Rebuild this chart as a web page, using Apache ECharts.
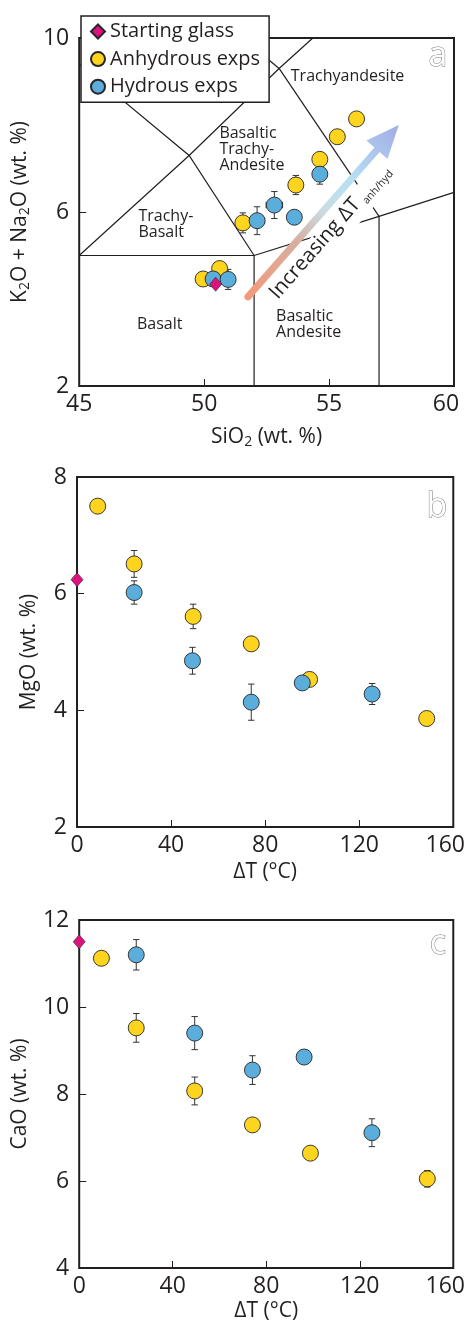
<!DOCTYPE html>
<html><head><meta charset="utf-8">
<script src="https://cdn.jsdelivr.net/npm/echarts@6/dist/echarts.min.js"></script>
<style>html,body{margin:0;padding:0;background:#fff}#c{width:468px;height:1324px}</style>
</head><body><div id="c"></div>
<script>
// ---------- Panel a: TAS diagram ----------
const tasAnhSiO2   = [56.10, 55.33, 54.63, 53.67, 51.55, 50.62, 49.96];
const tasAnhAlk    = [8.14, 7.73, 7.21, 6.62, 5.75, 4.70, 4.46];
const tasAnhErrAlk = [0, 0, 0, 0.22, 0.23, 0, 0];
const tasAnhErrSi  = [0, 0, 0, 0, 0, 0, 0];
const tasHydSiO2   = [54.63, 52.81, 52.12, 53.61, 50.36, 50.96];
const tasHydAlk    = [6.87, 6.16, 5.80, 5.88, 4.46, 4.45];
const tasHydErrAlk = [0.23, 0.31, 0.32, 0, 0, 0.23];
const tasHydErrSi  = [0, 0.33, 0.30, 0, 0, 0];
const tasStartSiO2 = [50.46];
const tasStartAlk  = [4.34];
// TAS field boundaries (clipped to the plotted window)
const tasBoundaries = [
  [[45, 5], [52, 5]],
  [[52, 2], [52, 5]],
  [[57, 2], [57, 5.9]],
  [[52, 5], [57, 5.9], [60, 6.45]],
  [[45, 5], [49.4, 7.3], [53, 9.3], [54.35, 10]],
  [[45, 9.4], [49.4, 7.3], [52, 5]],
  [[53, 9.3], [57, 5.9]],
  [[53, 9.3], [51.54, 10]]
];
const fieldNames = ['Trachyandesite', 'Basaltic\nTrachy-\nAndesite', 'Trachy-\nBasalt', 'Basalt', 'Basaltic\nAndesite'];
const fieldSiO2  = [55.74, 50.61, 47.37, 47.31, 52.88];
const fieldAlk   = [9.11, 7.44, 5.72, 3.42, 3.42];
const fieldAlign = ['center', 'left', 'left', 'left', 'left'];
const arrowTail = [51.75, 4.05];
const arrowHead = [57.79, 8.00];
const arrowLabelPos = [55.12, 5.50];

// ---------- Panel b: MgO vs dT ----------
const mgAnhDT  = [8.8, 24.3, 49.4, 74.1, 98.9, 148.7];
const mgAnh    = [7.50, 6.51, 5.61, 5.14, 4.53, 3.86];
const mgAnhErr = [0, 0.23, 0.21, 0, 0, 0.12];
const mgHydDT  = [24.3, 49.1, 74.1, 95.8, 125.5];
const mgHyd    = [6.02, 4.85, 4.14, 4.47, 4.28];
const mgHydErr = [0.20, 0.23, 0.31, 0, 0.18];
const mgStartDT = [0];
const mgStart   = [6.24];

// ---------- Panel c: CaO vs dT ----------
const caAnhDT  = [9.5, 24.4, 49.4, 74.1, 98.9, 148.9];
const caAnh    = [11.12, 9.52, 8.07, 7.29, 6.64, 6.05];
const caAnhErr = [0, 0.33, 0.32, 0, 0, 0.19];
const caHydDT  = [24.4, 49.4, 74.1, 96.2, 125.2];
const caHyd    = [11.20, 9.40, 8.55, 8.85, 7.11];
const caHydErr = [0.35, 0.38, 0.33, 0, 0.32];
const caStartDT = [0];
const caStart   = [11.50];

const FONT = 'Open Sans';
const INK = '#231f20';
const YEL = '#FFD41E', BLU = '#5BAEDC', PNK = '#DC137F';

const zip = (a, b) => a.map((v, i) => [v, b[i]]);
const errData = (xs, ys, ye, xe) => xs.map((x, i) => [x, ys[i], ye[i], xe ? xe[i] : 0]).filter(d => d[2] > 0 || d[3] > 0);

function renderErr(params, api) {
  const x = api.value(0), y = api.value(1), ye = api.value(2), xe = api.value(3);
  const st = { stroke: '#333', lineWidth: 1 };
  const kids = [];
  const cap = 3.2;
  if (ye > 0) {
    const t = api.coord([x, y + ye]), b = api.coord([x, y - ye]);
    kids.push({ type: 'line', shape: { x1: t[0], y1: t[1], x2: b[0], y2: b[1] }, style: st });
    kids.push({ type: 'line', shape: { x1: t[0] - cap, y1: t[1], x2: t[0] + cap, y2: t[1] }, style: st });
    kids.push({ type: 'line', shape: { x1: b[0] - cap, y1: b[1], x2: b[0] + cap, y2: b[1] }, style: st });
  }
  if (xe > 0) {
    const l = api.coord([x - xe, y]), r = api.coord([x + xe, y]);
    kids.push({ type: 'line', shape: { x1: l[0], y1: l[1], x2: r[0], y2: r[1] }, style: st });
    kids.push({ type: 'line', shape: { x1: l[0], y1: l[1] - cap, x2: l[0], y2: l[1] + cap }, style: st });
    kids.push({ type: 'line', shape: { x1: r[0], y1: r[1] - cap, x2: r[0], y2: r[1] + cap }, style: st });
  }
  return { type: 'group', children: kids };
}

function arrowAngle(api) {
  const p1 = api.coord(arrowTail), p2 = api.coord(arrowHead);
  return Math.atan2(-(p2[1] - p1[1]), p2[0] - p1[0]);
}

function renderArrow(params, api) {
  const p1 = api.coord([api.value(0), api.value(1)]);
  const p2 = api.coord([api.value(2), api.value(3)]);
  const dx = p2[0] - p1[0], dy = p2[1] - p1[1];
  const L = Math.hypot(dx, dy), ux = dx / L, uy = dy / L, nx = -uy, ny = ux;
  const hl = 33, hw = 14;
  const bx = p2[0] - ux * hl, by = p2[1] - uy * hl;
  const grad = () => new echarts.graphic.LinearGradient(p1[0], p1[1], p2[0], p2[1], [
    { offset: 0, color: '#F4997A' },
    { offset: 0.32, color: '#D8AE9F' },
    { offset: 0.5, color: '#C9DCE4' },
    { offset: 0.68, color: '#B6E1F1' },
    { offset: 1, color: '#A2ACE6' }
  ], true);
  return { type: 'group', children: [
    { type: 'line', shape: { x1: p1[0], y1: p1[1], x2: bx + ux * 2, y2: by + uy * 2 }, style: { stroke: grad(), lineWidth: 7, lineCap: 'round' } },
    { type: 'polygon', shape: { points: [[p2[0], p2[1]], [bx + nx * hw, by + ny * hw], [bx - nx * hw, by - ny * hw]] }, style: { fill: grad() } }
  ] };
}

function renderFieldLabel(params, api) {
  const p = api.coord([api.value(0), api.value(1)]);
  const i = params.dataIndex;
  return { type: 'text', x: p[0], y: p[1], style: {
    text: fieldNames[i], fontSize: 16, fontFamily: FONT, fill: INK,
    align: fieldAlign[i], verticalAlign: 'middle', lineHeight: 16 } };
}

function renderDeltaLabel(params, api) {
  const p = api.coord([api.value(0), api.value(1)]);
  return { type: 'text', x: p[0], y: p[1], rotation: arrowAngle(api), style: {
    text: '{m|Increasing ΔT}{s|anh/hyd}',
    rich: {
      m: { fontSize: 20.5, fontFamily: FONT, fill: INK, lineHeight: 23, verticalAlign: 'top' },
      s: { fontSize: 10.5, fontFamily: FONT, fill: INK, lineHeight: 12, verticalAlign: 'bottom', padding: [20, 0, 0, 4] }
    },
    align: 'center', verticalAlign: 'middle', backgroundColor: '#fff', padding: [0, 3, 4, 3] } };
}

const subRich = { sub: { fontSize: 14, fontFamily: FONT, color: INK, lineHeight: 14, verticalAlign: 'bottom' } };

function xAx(gi, min, max, interval, name, nameGap) {
  return {
    type: 'value', gridIndex: gi, min, max, interval, name, nameLocation: 'middle', nameGap,
    nameTextStyle: { fontSize: 21, lineHeight: 24, color: INK, fontFamily: FONT, rich: subRich },
    axisLine: { show: false },
    axisTick: { show: true, inside: true, length: 7, lineStyle: { color: INK, width: 1 } },
    axisLabel: { fontSize: 23, color: INK, fontFamily: FONT, margin: 7,
      formatter: v => (v === max ? '{r|' + v + '}' : String(v)),
      rich: { r: { fontSize: 23, color: INK, fontFamily: FONT, padding: [0, 16, 0, 0] } } },
    splitLine: { show: false }
  };
}
function yAx(gi, min, max, interval, name, nameGap) {
  return {
    type: 'value', gridIndex: gi, min, max, interval, name, nameLocation: 'middle', nameGap, nameRotate: 90,
    nameTextStyle: { fontSize: 21, lineHeight: 24, color: INK, fontFamily: FONT, rich: subRich },
    axisLine: { show: false },
    axisTick: { show: true, inside: true, length: 7, lineStyle: { color: INK, width: 1 } },
    axisLabel: { fontSize: 23, color: INK, fontFamily: FONT, margin: 10 },
    splitLine: { show: false }
  };
}

function scatter(name, gi, data, color, z) {
  const isStart = name === 'Starting glass';
  return {
    type: 'scatter', name, xAxisIndex: gi, yAxisIndex: gi, data, clip: false, z,
    symbol: isStart ? 'diamond' : 'circle', symbolSize: isStart ? [12, 14] : 16,
    itemStyle: { color, borderColor: '#262626', borderWidth: isStart ? 0.6 : 0.9, opacity: 1 },
    emphasis: { disabled: true }
  };
}
function errSeries(gi, data) {
  return { type: 'custom', xAxisIndex: gi, yAxisIndex: gi, data, renderItem: renderErr, z: 4, silent: true, clip: false };
}

const gridStyle = { show: true, borderColor: INK, borderWidth: 2, backgroundColor: 'transparent' };

const option = {
  animation: false,
  backgroundColor: '#fff',
  grid: [
    Object.assign({ left: 77, top: 38, width: 377, height: 348 }, gridStyle),
    Object.assign({ left: 77, top: 477, width: 377, height: 350 }, gridStyle),
    Object.assign({ left: 77, top: 920, width: 378, height: 349 }, gridStyle)
  ],
  xAxis: [
    xAx(0, 45, 60, 5, 'SiO{sub|2} (wt. %)', 39),
    xAx(1, 0, 160, 40, 'ΔT (°C)', 33),
    xAx(2, 0, 160, 40, 'ΔT (°C)', 31)
  ],
  yAxis: [
    yAx(0, 2, 10, 4, 'K{sub|2}O + Na{sub|2}O (wt. %)', 36),
    yAx(1, 2, 8, 2, 'MgO (wt. %)', 36),
    yAx(2, 4, 12, 2, 'CaO (wt. %)', 36)
  ],
  legend: {
    data: [
      { name: 'Starting glass', icon: 'diamond' },
      { name: 'Anhydrous exps', icon: 'circle' },
      { name: 'Hydrous exps', icon: 'circle' }
    ],
    orient: 'vertical', left: 81, top: 16, itemWidth: 14, itemHeight: 14, itemGap: 6.6,
    padding: [5, 9, 5, 9], backgroundColor: '#fff', borderColor: INK, borderWidth: 1.5,
    textStyle: { fontSize: 20, lineHeight: 21, color: INK, fontFamily: FONT },
    selectedMode: false, z: 10
  },
  graphic: [
    { type: 'text', x: 438, y: 73, style: { text: 'a', fontSize: 34, fontFamily: FONT, fill: '#fff', stroke: '#777', lineWidth: 1, align: 'center', verticalAlign: 'bottom' }, z: 20 },
    { type: 'text', x: 437, y: 524, style: { text: 'b', fontSize: 34, fontFamily: FONT, fill: '#fff', stroke: '#777', lineWidth: 1, align: 'center', verticalAlign: 'bottom' }, z: 20 },
    { type: 'text', x: 438, y: 961, style: { text: 'c', fontSize: 34, fontFamily: FONT, fill: '#fff', stroke: '#777', lineWidth: 1, align: 'center', verticalAlign: 'bottom' }, z: 20 }
  ],
  series: [
    // Panel a
    { type: 'lines', coordinateSystem: 'cartesian2d', xAxisIndex: 0, yAxisIndex: 0, polyline: true, silent: true, z: 2,
      lineStyle: { color: INK, width: 1.2, opacity: 1 }, data: tasBoundaries.map(c => ({ coords: c })) },
    { type: 'custom', xAxisIndex: 0, yAxisIndex: 0, data: zip(fieldSiO2, fieldAlk), renderItem: renderFieldLabel, z: 3, silent: true },
    { type: 'custom', xAxisIndex: 0, yAxisIndex: 0, data: [arrowLabelPos], renderItem: renderDeltaLabel, z: 3, silent: true },
    { type: 'custom', xAxisIndex: 0, yAxisIndex: 0, data: [[arrowTail[0], arrowTail[1], arrowHead[0], arrowHead[1]]], renderItem: renderArrow, z: 3.5, silent: true },
    errSeries(0, errData(tasAnhSiO2, tasAnhAlk, tasAnhErrAlk, tasAnhErrSi).concat(errData(tasHydSiO2, tasHydAlk, tasHydErrAlk, tasHydErrSi))),
    scatter('Anhydrous exps', 0, zip(tasAnhSiO2, tasAnhAlk), YEL, 5),
    scatter('Hydrous exps', 0, zip(tasHydSiO2, tasHydAlk), BLU, 6),
    scatter('Starting glass', 0, zip(tasStartSiO2, tasStartAlk), PNK, 7),
    // Panel b
    errSeries(1, errData(mgAnhDT, mgAnh, mgAnhErr).concat(errData(mgHydDT, mgHyd, mgHydErr))),
    scatter('Anhydrous exps', 1, zip(mgAnhDT, mgAnh), YEL, 5),
    scatter('Hydrous exps', 1, zip(mgHydDT, mgHyd), BLU, 6),
    scatter('Starting glass', 1, zip(mgStartDT, mgStart), PNK, 7),
    // Panel c
    errSeries(2, errData(caAnhDT, caAnh, caAnhErr).concat(errData(caHydDT, caHyd, caHydErr))),
    scatter('Anhydrous exps', 2, zip(caAnhDT, caAnh), YEL, 5),
    scatter('Hydrous exps', 2, zip(caHydDT, caHyd), BLU, 6),
    scatter('Starting glass', 2, zip(caStartDT, caStart), PNK, 7)
  ]
};

const chart = echarts.init(document.getElementById('c'), null, { renderer: 'canvas' });
chart.setOption(option);
</script></body></html>
